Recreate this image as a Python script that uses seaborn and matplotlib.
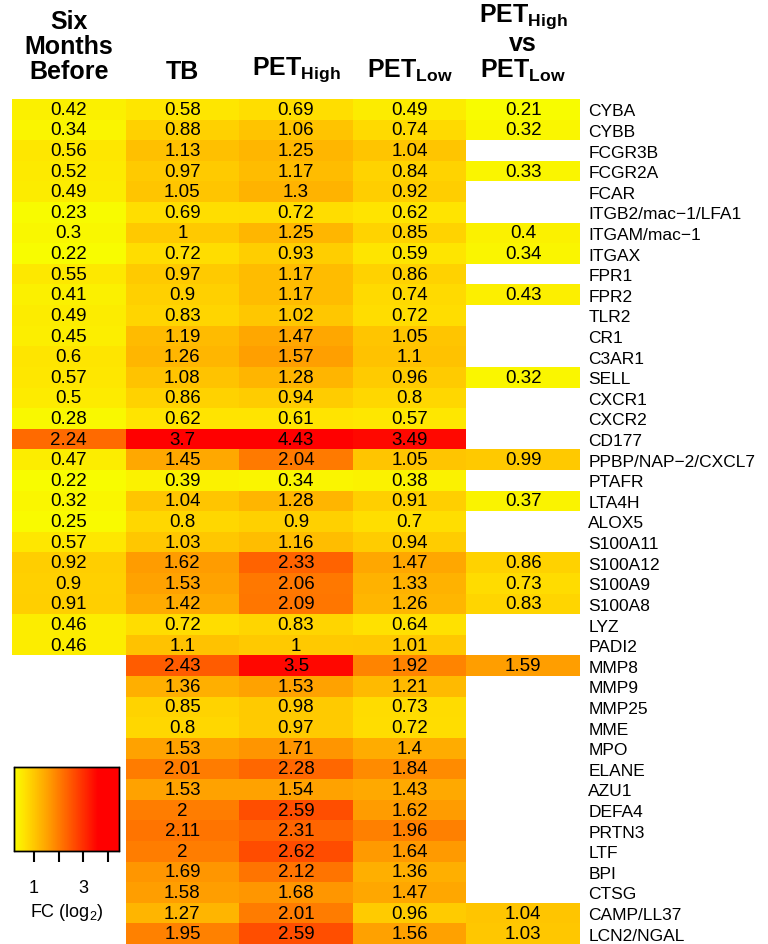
import numpy as np
import pandas as pd
import matplotlib
matplotlib.use('Agg')
import matplotlib.pyplot as plt
import seaborn as sns
from matplotlib.colors import LinearSegmentedColormap

# ─────────────────────────────────────────────
# DATA
# ─────────────────────────────────────────────
genes = ["CYBA", "CYBB", "FCGR3B", "FCGR2A", "FCAR", "ITGB2/mac\u22121/LFA1",
         "ITGAM/mac\u22121", "ITGAX", "FPR1", "FPR2", "TLR2", "CR1", "C3AR1",
         "SELL", "CXCR1", "CXCR2", "CD177", "PPBP/NAP\u22122/CXCL7", "PTAFR",
         "LTA4H", "ALOX5", "S100A11", "S100A12", "S100A9", "S100A8", "LYZ",
         "PADI2", "MMP8", "MMP9", "MMP25", "MME", "MPO", "ELANE", "AZU1",
         "DEFA4", "PRTN3", "LTF", "BPI", "CTSG", "CAMP/LL37", "LCN2/NGAL"]

nan = np.nan
six_months = [0.42, 0.34, 0.56, 0.52, 0.49, 0.23, 0.3, 0.22, 0.55, 0.41, 0.49,
              0.45, 0.6, 0.57, 0.5, 0.28, 2.24, 0.47, 0.22, 0.32, 0.25, 0.57,
              0.92, 0.9, 0.91, 0.46, 0.46,
              nan, nan, nan, nan, nan, nan, nan, nan, nan, nan, nan, nan, nan, nan]
tb = [0.58, 0.88, 1.13, 0.97, 1.05, 0.69, 1, 0.72, 0.97, 0.9, 0.83, 1.19, 1.26,
      1.08, 0.86, 0.62, 3.7, 1.45, 0.39, 1.04, 0.8, 1.03, 1.62, 1.53, 1.42,
      0.72, 1.1, 2.43, 1.36, 0.85, 0.8, 1.53, 2.01, 1.53, 2, 2.11, 2, 1.69,
      1.58, 1.27, 1.95]
pet_high = [0.69, 1.06, 1.25, 1.17, 1.3, 0.72, 1.25, 0.93, 1.17, 1.17, 1.02,
            1.47, 1.57, 1.28, 0.94, 0.61, 4.43, 2.04, 0.34, 1.28, 0.9, 1.16,
            2.33, 2.06, 2.09, 0.83, 1, 3.5, 1.53, 0.98, 0.97, 1.71, 2.28, 1.54,
            2.59, 2.31, 2.62, 2.12, 1.68, 2.01, 2.59]
pet_low = [0.49, 0.74, 1.04, 0.84, 0.92, 0.62, 0.85, 0.59, 0.86, 0.74, 0.72,
           1.05, 1.1, 0.96, 0.8, 0.57, 3.49, 1.05, 0.38, 0.91, 0.7, 0.94, 1.47,
           1.33, 1.26, 0.64, 1.01, 1.92, 1.21, 0.73, 0.72, 1.4, 1.84, 1.43,
           1.62, 1.96, 1.64, 1.36, 1.47, 0.96, 1.56]
high_vs_low = [0.21, 0.32, nan, 0.33, nan, nan, 0.4, 0.34, nan, 0.43, nan, nan,
               nan, 0.32, nan, nan, nan, 0.99, nan, 0.37, nan, nan, 0.86, 0.73,
               0.83, nan, nan, 1.59, nan, nan, nan, nan, nan, nan, nan, nan,
               nan, nan, nan, 1.04, 1.03]

col_headers = ["Six\nMonths\nBefore", "TB", r"PET$_{\mathbf{High}}$",
               r"PET$_{\mathbf{Low}}$",
               "PET$_{\\mathbf{High}}$\nvs\nPET$_{\\mathbf{Low}}$"]
cbar_ticks = [1, 2, 3, 4]
cbar_ticklabels = ["1", "", "3", ""]

df = pd.DataFrame({"six": six_months, "tb": tb, "high": pet_high,
                   "low": pet_low, "hvl": high_vs_low}, index=genes)

# labels like R prints them: 1, 1.3, 0.42
annot = df.map(lambda v: "" if pd.isna(v) else f"{v:g}")

# ─────────────────────────────────────────────
# STYLE
# ─────────────────────────────────────────────
sns.set_style("white")
plt.rcParams['font.family'] = ['Liberation Sans', 'DejaVu Sans']
plt.rcParams['mathtext.fontset'] = 'custom'
plt.rcParams['mathtext.rm'] = 'Liberation Sans'
plt.rcParams['mathtext.bf'] = 'Liberation Sans:bold'

# yellow -> orange -> red, saturating to red near the top of the range
cmap = LinearSegmentedColormap.from_list(
    "yr", [(0.0, "#F8FC00"), (0.1, "#FFE200"), (0.305, "#FFA500"),
           (0.8, "#FF0000"), (1.0, "#FF0000")])
vmin = np.nanmin(df.values)
vmax = np.nanmax(df.values)

W, H = 768, 945
fig = plt.figure(figsize=(W / 100, H / 100), dpi=100)
ax = fig.add_axes([12 / W, 0, 568 / W, 845 / H])
cax = fig.add_axes([14 / W, (H - 852) / H, 105 / W, 84 / H])

sns.heatmap(df, ax=ax, cmap=cmap, vmin=vmin, vmax=vmax,
            annot=annot.values, fmt="",
            annot_kws={"fontsize": 13.5, "color": "black"},
            cbar_ax=cax, cbar_kws={"orientation": "horizontal"})

ax.set_xticks([])
ax.yaxis.tick_right()
ax.set_yticks(np.arange(len(genes)) + 0.5)
ax.set_yticklabels(genes, rotation=0, fontsize=12.5, ha="left", color="black")
ax.tick_params(axis="y", length=0, pad=6)
ax.set_xlabel(""); ax.set_ylabel("")

# column headers
for i, h in enumerate(col_headers):
    ax.text(i + 0.5, -0.8, h, ha="center", va="bottom", fontsize=18,
            fontweight="bold", linespacing=1.05, clip_on=False, color="black")

# colour key
cax.set_xticks(cbar_ticks)
cax.set_xticklabels(cbar_ticklabels, fontsize=13, color="black")
cax.tick_params(axis="x", direction="out", length=8, width=1.5, pad=12,
                color="black", bottom=True)
for s in cax.spines.values():
    s.set_visible(True); s.set_color("black"); s.set_linewidth(1)
cax.set_xlabel(r"FC (log$_2$)", fontsize=13, labelpad=4, color="black")

fig.savefig("out.png", dpi=100)
